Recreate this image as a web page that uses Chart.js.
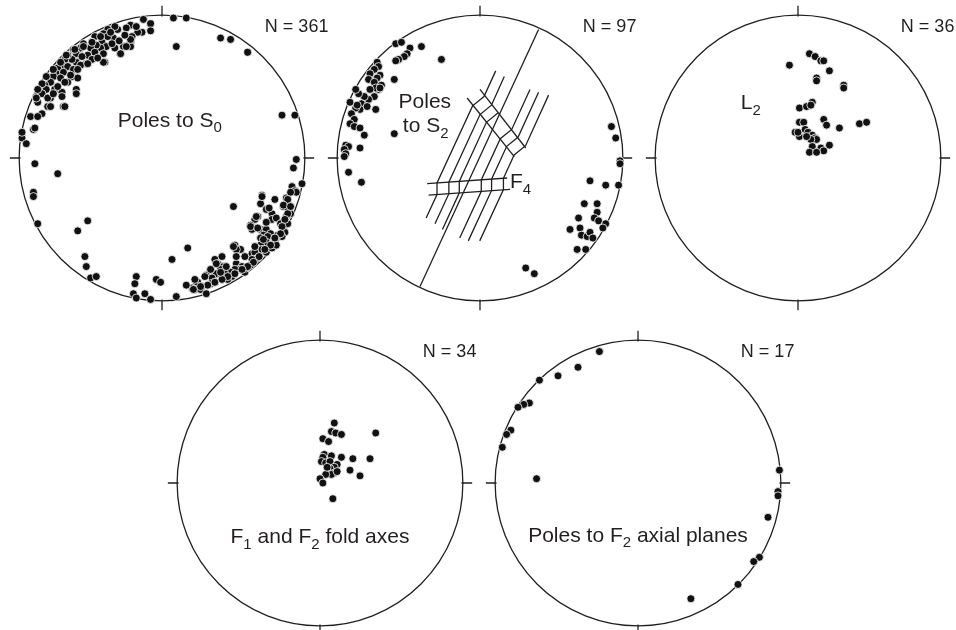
<!DOCTYPE html>
<html>
<head>
<meta charset="utf-8">
<title>Stereonets</title>
<script src="https://cdn.jsdelivr.net/npm/chart.js@4.4.1/dist/chart.umd.min.js"></script>
<style>
    html, body { margin: 0; padding: 0; background: #fff; overflow: hidden; }
    #page { position: relative; width: 956px; height: 630px; overflow: hidden; }
    .net { position: absolute; width: 340px; height: 330px; }
</style>
</head>
<body>
<div id="page">
    <div class="net" style="left:-8px;top:-7px"><canvas id="net1" width="340" height="330"></canvas></div>
    <div class="net" style="left:310px;top:-7px"><canvas id="net2" width="340" height="330"></canvas></div>
    <div class="net" style="left:628px;top:-7px"><canvas id="net3" width="340" height="330"></canvas></div>
    <div class="net" style="left:150px;top:318px"><canvas id="net4" width="340" height="330"></canvas></div>
    <div class="net" style="left:468px;top:318px"><canvas id="net5" width="340" height="330"></canvas></div>
</div>
<script>
// Data: projected positions, primitive radius = 100
const polesS0 = [
    [8,98],[17,98],[10,78],[41,84],[48,83],[60,74],[84,30],[93,30],
    [94,-1],[92,-7],[98,-18],[91,-20],[93,-23],[94,-24],[50,-34],
    [-98,17],[-98,14],[-95,10],[-89,-4],[-73,-11],[-90,-24],[-90,-27],[-87,-46],[-90,20],[-92,29],[-84,31],
    [-52,-44],[-59,-51],[-54,-69],[-53,-76],[-50,-84],[-46,-83],[-18,-83],[-19,-88],[-20,-95],[-18,-98],
    [-12,-95],[-8,-99],[-4,-85],[-1,-87],[7,-71],[18,-63],[10,-97],
    [70,-26],[87,-28],[69,-32],[73,-36],[85,-34],[88,-35],[90,-39],[87,-41],[77,-39],[67,-41],[65,-43],
    [73,-45],[77,-43],[80,-42],[83,-46],[85,-48],[88,-46],[86,-52],[84,-55],[62,-47],[63,-50],[69,-50],
    [73,-50],[76,-53],[71,-54],[69,-56],[74,-55],[79,-56],[81,-54],[78,-60],[73,-59],[69,-61],[66,-63],
    [70,-64],[73,-66],[77,-63],[80,-61],[51,-61],[55,-64],[52,-64],[63,-67],[65,-66],[67,-70],[63,-71],
    [42,-69],[52,-74],[56,-76],[58,-80],[54,-78],[59,-77],[62,-75],[51,-78],[48,-80],[49,-83],[45,-84],
    [37,-71],[39,-74],[43,-76],[41,-78],[38,-81],[42,-83],[44,-81],[46,-85],[34,-78],[31,-82],[35,-84],
    [37,-87],[34,-88],[25,-87],[24,-89],[28,-90],[21,-91],[23,-92],[27,-92],[31,-95],
    [90,-24],[88,-29],[85,-33],[90,-34],[88,-39],[86,-43],[84,-48],[83,-53],[79,-56],[76,-61],[72,-64],
    [68,-69],[64,-73],[60,-76],[56,-78],[51,-81],[46,-83],[42,-85],[37,-87],[32,-89],[27,-90],[22,-92],
    [70,-27],[79,-29],[75,-35],[66,-41],[62,-48],[67,-49],[73,-45],[71,-57],[65,-62],[58,-69],[50,-62],
    [52,-69],[45,-76],[38,-74],[34,-78],[30,-83],[23,-85],[17,-89],[41,-80],
    [-13,97],[-8,94],[-8,89],[-14,88],[-17,88],[-22,93],[-25,91],[-21,85],[-22,81],[-22,78],[-27,78],
    [-29,73],[-33,77],[-34,84],[-31,90],[-33,92],[-38,90],[-41,87],[-38,85],[-42,81],[-39,78],[-35,80],
    [-43,77],[-41,73],[-40,67],[-47,85],[-49,81],[-46,79],[-50,77],[-47,74],[-52,72],[-49,69],[-53,66],
    [-55,80],[-57,77],[-60,73],[-62,76],[-56,71],[-60,67],[-57,65],[-63,69],[-66,72],[-68,69],[-70,65],
    [-66,64],[-73,63],[-74,59],[-69,60],[-62,62],[-76,57],[-71,56],[-63,57],[-59,56],[-66,53],[-78,53],
    [-82,51],[-85,49],[-81,48],[-75,48],[-70,46],[-60,48],[-60,45],[-88,43],[-84,45],[-78,42],[-70,43],
    [-87,39],[-80,36],[-69,36],[-87,29],[-89,21],[-98,18],
    [-36,88],[-43,85],[-49,81],[-55,78],[-61,76],[-67,72],[-71,67],[-76,62],[-81,57],[-84,52],[-87,48],[-88,42],
    [-41,67],[-29,73],[-25,78],[-22,83],[-68,36],[-78,36],[-80,42],
    [-45,70],[-52,66],[-59,62],[-64,58],[-68,53],[-73,50],[-76,45],[-30,82],[-26,86],[-18,92]
];

const polesS2 = [
    [-59,80],[-55,81],[-49,77],[-41,78],[-51,73],[-53,71],[-57,69],[-59,68],[-27,69],
    [-72,67],[-71,64],[-74,62],[-77,59],[-70,58],[-72,56],[-78,55],[-74,53],[-60,55],
    [-69,51],[-71,48],[-73,49],[-77,48],[-74,43],[-78,41],[-81,43],[-85,45],[-87,48],
    [-83,38],[-79,36],[-84,34],[-87,35],[-90,31],[-91,39],[-86,37],[-88,27],[-70,49],[-73,34],
    [-91,24],[-88,22],[-84,21],[-81,16],[-60,17],
    [-94,9],[-92,8],[-95,6],[-94,3],[-95,1],[-84,7],[-92,-10],[-83,-17],
    [92,22],[95,14],[98,-2],[98,-4],[97,-19],[88,-19],[77,-16],
    [73,-32],[82,-32],[69,-42],[82,-38],[80,-42],[83,-44],[88,-46],[63,-50],[70,-49],[71,-54],
    [75,-55],[77,-52],[79,-56],[68,-64],[74,-64],[86,-49],
    [32,-77],[38,-81]
];

// Folded S2 traces (kinked through the two F4 bands), as vertex lists
const s2Traces = [
    [[11,61],[2.8,43],[-5.2,36.5],[-30.1,-17.5],[-30.1,-25.6],[-37.7,-42]],
    [[17,57],[8,37],[0,30.4],[-21.8,-16.9],[-21.8,-25],[-31.5,-46]],
    [[12.5,31.5],[4.5,25],[-14.5,-16.4],[-14.5,-24.4],[-26.3,-50]],
    [[35,48],[22.2,20],[14.2,13.5],[0.9,-15.3],[0.9,-23.3],[-14.2,-56]],
    [[41,46],[26.7,14.7],[18.7,8.2],[8.1,-14.8],[8.1,-22.7],[-8.2,-58]],
    [[48,44],[31.9,8.6],[23.9,2.1],[16.4,-14.2],[16.4,-22.1],[-0.2,-58]]
];
const f4AxialPlane = [41, 90, -42, -90];
// F4 kink-band boundaries [x1, y1, x2, y2]
const f4Bands = [
    [-9,42,24,1],[0,48,32,7],
    [-37,-18,19,-14],[-36,-26,21,-22]
];

const lineationL2 = [
    [-6,65],[8,73],[12,71],[16,68],[18,68],[22,61],[13,56],[13,54],[32,51],[32,49],
    [10,39],[1,35],[6,36],[9,37],[1,25],[4,25],[18,27],[20,23],[29,21],[43,24],[48,25],
    [-2,18],[1,15],[0,18],[5,20],[7,18],[10,16],[12,14],[13,13],[9,13],[6,15],
    [10,8],[16,7],[22,9],[18,5],[8,4],[13,4]
];

const foldAxesF1F2 = [
    [10,42],[8,36],[11,35],[15,34],[39,35],[2,31],[6,29],[3,20],[2,18],[8,19],[15,18],
    [23,17],[35,17],[1,15],[4,14],[7,15],[12,13],[10,11],[7,10],[21,9],[10,7],[8,6],
    [4,6],[0,3],[2,0],[28,5],[9,-11],[5,11],[12,8]
];

const polesF2Axial = [
    [-27,92],[-42,81],[-56,75],[-69,72],[-76,56],[-80,55],[-84,53],[-89,37],[-92,34],
    [-95,25],[-71,3],[99,9],[98,-6],[98,-9],[91,-24],[85,-52],[81,-55],[70,-71],[37,-81]
];

const netCounts = [361, 97, 36, 34, 17];

const INK = '#231f20';
const FONT = '"Liberation Sans", Arial, Helvetica, sans-serif';
const LABEL_SIZE = 21;
const COUNT_SIZE = 18;

// Rich text: parts = [[text, isSubscript], ...]
function drawRich(ctx, x, y, parts, size, align) {
    const subSize = Math.round(size * 0.7);
    let width = 0;
    parts.forEach(([t, sub]) => {
        ctx.font = `${sub ? subSize : size}px ${FONT}`;
        width += ctx.measureText(t).width;
    });
    let cx = align === 'center' ? x - width / 2 : x;
    parts.forEach(([t, sub]) => {
        ctx.font = `${sub ? subSize : size}px ${FONT}`;
        ctx.fillText(t, cx, sub ? y + size * 0.27 : y);
        cx += ctx.measureText(t).width;
    });
}

// Primitive circle, N/E/S/W ticks and texts
const netFrame = {
    id: 'netFrame',
    beforeDatasetsDraw(chart, args, opts) {
        const { ctx, scales: { x, y } } = chart;
        const cx = x.getPixelForValue(0);
        const cy = y.getPixelForValue(0);
        const r = x.getPixelForValue(100) - cx;
        const t0 = x.getPixelForValue(99) - cx;
        const t1 = x.getPixelForValue(106.5) - cx;
        ctx.save();
        ctx.strokeStyle = INK;
        ctx.lineWidth = 1.3;
        ctx.beginPath();
        ctx.arc(cx, cy, r, 0, Math.PI * 2);
        ctx.stroke();
        ctx.beginPath();
        ctx.moveTo(cx, cy - t0); ctx.lineTo(cx, cy - t1);
        ctx.moveTo(cx, cy + t0); ctx.lineTo(cx, cy + t1);
        ctx.moveTo(cx - t0, cy); ctx.lineTo(cx - t1, cy);
        ctx.moveTo(cx + t0, cy); ctx.lineTo(cx + t1, cy);
        ctx.stroke();
        ctx.restore();
    },
    afterDatasetsDraw(chart, args, opts) {
        const { ctx, scales: { x, y } } = chart;
        ctx.save();
        ctx.fillStyle = INK;
        ctx.textBaseline = 'alphabetic';
        ctx.textAlign = 'left';
        drawRich(ctx, x.getPixelForValue(72), y.getPixelForValue(88), [['N = ' + opts.count, false]], COUNT_SIZE, 'left');
        (opts.labels || []).forEach(l => {
            drawRich(ctx, x.getPixelForValue(l.at[0]), y.getPixelForValue(l.at[1]), l.parts, LABEL_SIZE, l.align);
        });
        ctx.restore();
    }
};

function pointSet(pts) {
    return {
        data: pts.map(([x, y]) => ({ x, y })),
        pointRadius: 4,
        pointBackgroundColor: '#111',
        pointBorderColor: '#fff',
        pointBorderWidth: 0.8,
        showLine: false,
        order: 0
    };
}

function polySet(verts) {
    return {
        data: verts.map(([x, y]) => ({ x, y })),
        showLine: true,
        borderColor: INK,
        borderWidth: 1.3,
        pointRadius: 0,
        fill: false,
        tension: 0,
        order: 1
    };
}

function segment(s) {
    return [[s[0], s[1]], [s[2], s[3]]];
}

function makeNet(id, datasets, count, labels) {
    return new Chart(document.getElementById(id), {
        type: 'scatter',
        data: { datasets: datasets },
        options: {
            responsive: false,
            animation: false,
            events: [],
            layout: { padding: 0, autoPadding: false },
            clip: false,
            scales: {
                x: { type: 'linear', min: -119, max: 119, display: false },
                y: { type: 'linear', min: -115.5, max: 115.5, display: false }
            },
            plugins: {
                legend: { display: false },
                tooltip: { enabled: false },
                netFrame: { count: count, labels: labels }
            }
        },
        plugins: [netFrame]
    });
}

document.addEventListener('DOMContentLoaded', function() {
    makeNet('net1', [pointSet(polesS0)], netCounts[0], [
        { at: [-31, 22], align: 'left', parts: [['Poles to S', false], ['0', true]] }
    ]);

    const net2Sets = [pointSet(polesS2), polySet(segment(f4AxialPlane))];
    s2Traces.forEach(t => net2Sets.push(polySet(t)));
    f4Bands.forEach(s => net2Sets.push(polySet(segment(s))));
    makeNet('net2', net2Sets, netCounts[1], [
        { at: [-57, 35], align: 'left', parts: [['Poles', false]] },
        { at: [-54, 18], align: 'left', parts: [['to S', false], ['2', true]] },
        { at: [21, -21], align: 'left', parts: [['F', false], ['4', true]] }
    ]);

    makeNet('net3', [pointSet(lineationL2)], netCounts[2], [
        { at: [-40, 34], align: 'left', parts: [['L', false], ['2', true]] }
    ]);

    makeNet('net4', [pointSet(foldAxesF1F2)], netCounts[3], [
        { at: [0, -42], align: 'center', parts: [['F', false], ['1', true], [' and F', false], ['2', true], [' fold axes', false]] }
    ]);

    makeNet('net5', [pointSet(polesF2Axial)], netCounts[4], [
        { at: [0, -41], align: 'center', parts: [['Poles to F', false], ['2', true], [' axial planes', false]] }
    ]);
});
</script>
</body>
</html>
